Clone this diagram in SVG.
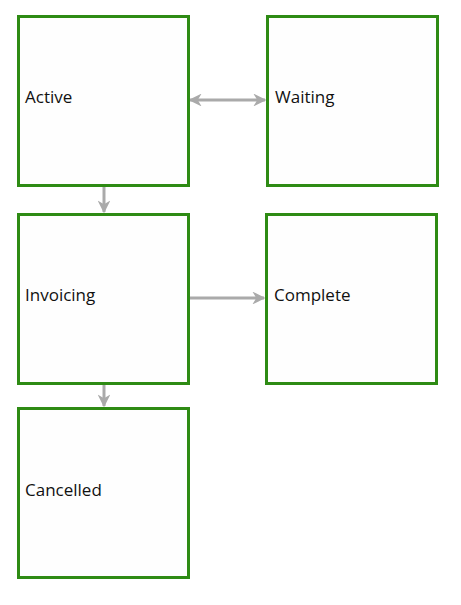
<svg xmlns="http://www.w3.org/2000/svg" width="461" height="605" viewBox="0 0 461 605">
<style>
.box{fill:#fefefe;stroke:#2e8b14;stroke-width:3}
.lbl{font-family:"Open Sans","Noto Sans",sans-serif;font-size:17px;fill:#111}
.edge{stroke:#aaaaaa;stroke-width:3;fill:none}
</style>
<defs>
<marker id="ah" viewBox="0 0 10 10" refX="9" refY="5" markerWidth="4.3" markerHeight="4.3" orient="auto-start-reverse" markerUnits="strokeWidth">
<path d="M0,0 L10,5 L0,10 L3,5 z" fill="#aaaaaa"/>
</marker>
</defs>
<rect width="461" height="605" fill="#ffffff"/>
<g id="connectors">
<line class="edge" x1="190" y1="100" x2="265" y2="100" marker-start="url(#ah)" marker-end="url(#ah)"/>
<line class="edge" x1="104" y1="187" x2="104" y2="212" marker-end="url(#ah)"/>
<line class="edge" x1="190" y1="298" x2="264" y2="298" marker-end="url(#ah)"/>
<line class="edge" x1="104" y1="385" x2="104" y2="406" marker-end="url(#ah)"/>
</g>
<g id="active"><rect class="box" x="18.5" y="16.5" width="170" height="169"/><text class="lbl" x="25" y="103">Active</text></g>
<g id="waiting"><rect class="box" x="267.5" y="16.5" width="170" height="169"/><text class="lbl" x="275" y="103">Waiting</text></g>
<g id="invoicing"><rect class="box" x="18.5" y="214.5" width="170" height="169"/><text class="lbl" x="25" y="301">Invoicing</text></g>
<g id="complete"><rect class="box" x="266.5" y="214.5" width="170" height="169"/><text class="lbl" x="274" y="301">Complete</text></g>
<g id="cancelled"><rect class="box" x="18.5" y="408.5" width="170" height="169"/><text class="lbl" x="25" y="496">Cancelled</text></g>
</svg>
